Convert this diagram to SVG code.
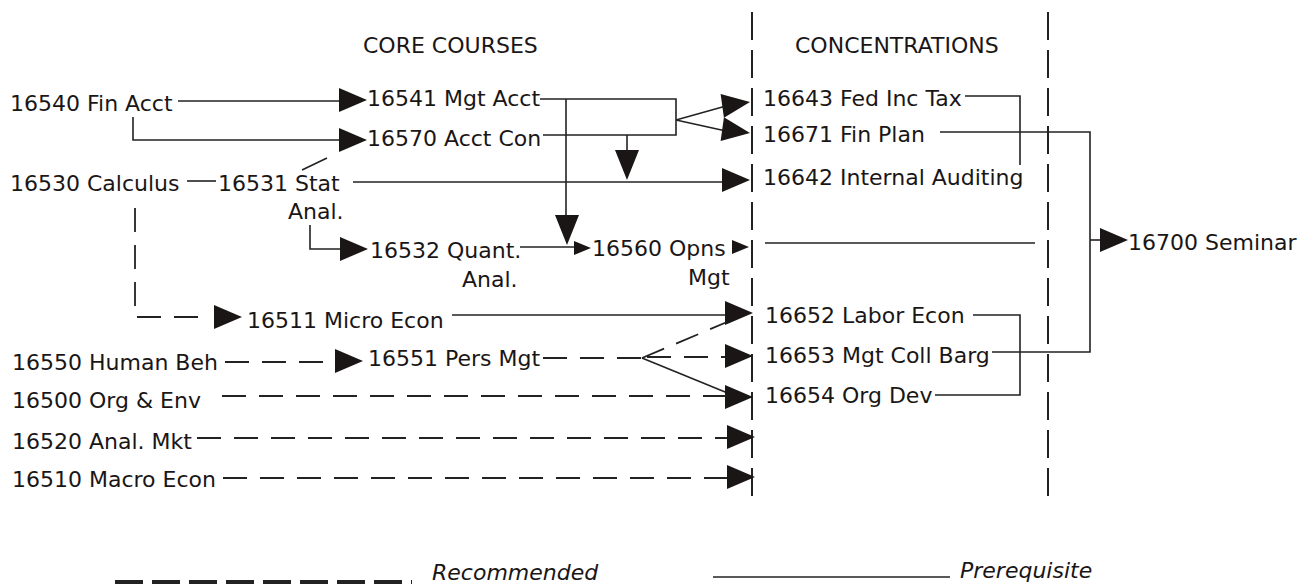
<svg xmlns="http://www.w3.org/2000/svg" xmlns:xlink="http://www.w3.org/1999/xlink" width="1315" height="585" viewBox="0 0 1315 585">
<style>
text{font-family:"DejaVu Sans","Liberation Sans",sans-serif;font-size:22px;fill:#1a1616}
.it{font-style:italic}
.ln{fill:none;stroke:#222;stroke-width:1.6}
.rec{fill:none;stroke:#222;stroke-width:1.8;stroke-dasharray:24 13}
.sep{fill:none;stroke:#222;stroke-width:2;stroke-dasharray:28 10}
.ah{fill:#1a1616}
</style>
<defs>
<polygon id="ah" points="-28,-12 0,0 -28,12"/>
<polygon id="ahs" points="-17,-7 0,0 -17,7"/>
<polygon id="ahd" points="-12,-30 12,-30 0,0"/>
</defs>
<rect width="1315" height="585" fill="#fff"/>

<g id="headers">
<text x="363" y="53">CORE COURSES</text>
<text x="795" y="53">CONCENTRATIONS</text>
</g>

<g id="n16540"><text x="10" y="111">16540 Fin Acct</text></g>
<g id="n16541"><text x="367" y="106">16541 Mgt Acct</text></g>
<g id="n16570"><text x="367" y="146">16570 Acct Con</text></g>
<g id="n16530"><text x="10" y="191">16530 Calculus</text></g>
<g id="n16531"><text x="218" y="191">16531 Stat</text><text x="288" y="219">Anal.</text></g>
<g id="n16532"><text x="370" y="258">16532 Quant.</text><text x="462" y="287">Anal.</text></g>
<g id="n16560"><text x="592" y="256">16560 Opns</text><text x="688" y="285">Mgt</text></g>
<g id="n16511"><text x="247" y="328">16511 Micro Econ</text></g>
<g id="n16550"><text x="12" y="370">16550 Human Beh</text></g>
<g id="n16551"><text x="368" y="366">16551 Pers Mgt</text></g>
<g id="n16500"><text x="12" y="408">16500 Org &amp; Env</text></g>
<g id="n16520"><text x="12" y="449">16520 Anal. Mkt</text></g>
<g id="n16510"><text x="12" y="487">16510 Macro Econ</text></g>
<g id="n16643"><text x="763" y="106">16643 Fed Inc Tax</text></g>
<g id="n16671"><text x="763" y="142">16671 Fin Plan</text></g>
<g id="n16642"><text x="763" y="185">16642 Internal Auditing</text></g>
<g id="n16652"><text x="765" y="323">16652 Labor Econ</text></g>
<g id="n16653"><text x="765" y="363">16653 Mgt Coll Barg</text></g>
<g id="n16654"><text x="765" y="403">16654 Org Dev</text></g>
<g id="n16700"><text x="1128" y="250">16700 Seminar</text></g>

<g id="separators">
<line class="sep" x1="752" y1="12" x2="752" y2="505"/>
<line class="sep" x1="1048" y1="12" x2="1048" y2="502"/>
</g>

<g id="connectors">
<path class="ln" d="M178,101 H342"/>
<use href="#ah" class="ah" x="367" y="100"/>
<path class="ln" d="M133,117 V140 H342"/>
<use href="#ah" class="ah" x="367" y="140"/>
<path class="ln" d="M187,181 H216"/>
<path class="ln" d="M302,170 L327,158"/>
<path class="ln" d="M353,182 H726"/>
<use href="#ah" class="ah" x="750" y="180"/>
<path class="ln" d="M310,225 V249 H342"/>
<use href="#ah" class="ah" x="368" y="249"/>
<path class="ln" d="M540,99 H676 V135 H543"/>
<path class="ln" d="M676,120 L726,106 M676,120 L726,131"/>
<use href="#ah" class="ah" transform="translate(750,102) rotate(-8)"/>
<use href="#ah" class="ah" transform="translate(750,133) rotate(8)"/>
<path class="ln" d="M566,99 V218"/>
<use href="#ahd" class="ah" x="567" y="245"/>
<path class="ln" d="M627,135 V152"/>
<use href="#ahd" class="ah" x="627" y="180"/>
<path class="ln" d="M520,247 H576"/>
<use href="#ahs" class="ah" x="591" y="248"/>
<use href="#ahs" class="ah" x="749" y="247"/>
<path class="ln" d="M765,243 H1035"/>
<path class="ln" d="M452,315 H729"/>
<use href="#ah" class="ah" x="753" y="313"/>
<path class="ln" d="M642,358 L730,394"/>
<use href="#ah" class="ah" x="753" y="397"/>
<path class="ln" d="M965,96 H1020 V165"/>
<path class="ln" d="M940,132 H1090 V352 H992"/>
<path class="ln" d="M1090,240 H1102"/>
<use href="#ah" class="ah" x="1128" y="240"/>
<path class="ln" d="M973,315 H1020 V395 H935"/>
<path class="rec" d="M135,208 V317 H210"/>
<use href="#ah" class="ah" x="242" y="317"/>
<path class="rec" d="M225,362 H338"/>
<use href="#ah" class="ah" x="363" y="361"/>
<path class="rec" d="M543,358 H642"/>
<path class="rec" d="M642,358 L727,322"/>
<path class="rec" d="M647,357 H728"/>
<use href="#ah" class="ah" x="753" y="356"/>
<path class="rec" d="M222,396 H728"/>
<path class="rec" d="M197,438 H730"/>
<use href="#ah" class="ah" x="755" y="437"/>
<path class="rec" d="M223,478 H730"/>
<use href="#ah" class="ah" x="755" y="477"/>
</g>

<g id="legend">
<line x1="115" y1="582" x2="412" y2="582" stroke="#222" stroke-width="4" stroke-dasharray="28 9"/>
<text class="it" x="432" y="580">Recommended</text>
<line x1="713" y1="577" x2="950" y2="577" stroke="#222" stroke-width="1.6"/>
<text class="it" x="960" y="578">Prerequisite</text>
</g>
</svg>
